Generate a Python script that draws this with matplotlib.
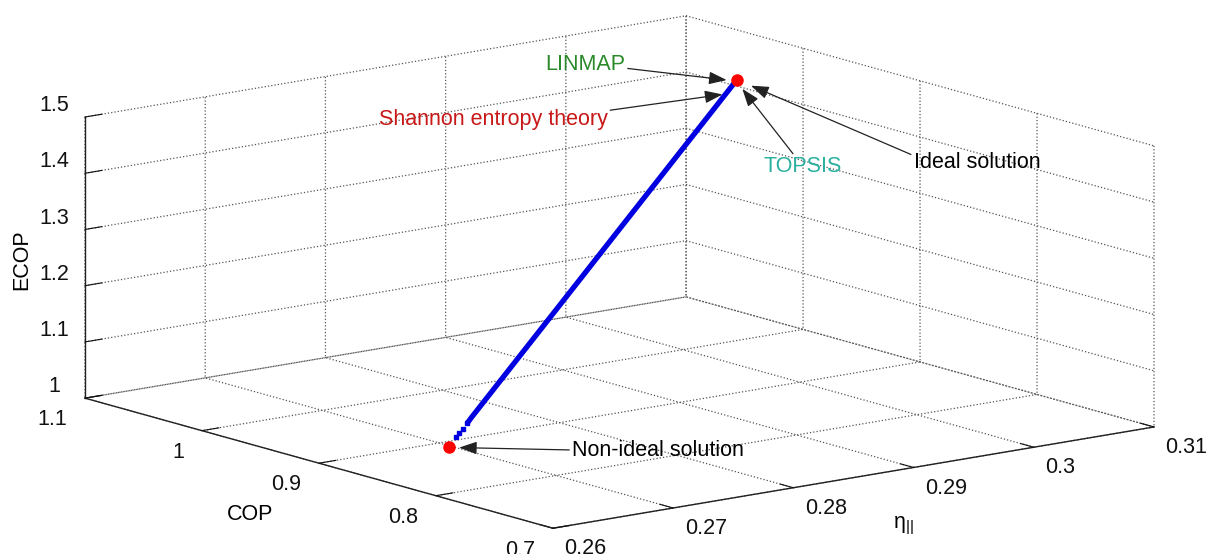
import numpy as np
import matplotlib
matplotlib.use('Agg')
import matplotlib.pyplot as plt
from matplotlib.ticker import FormatStrFormatter
from mpl_toolkits.mplot3d import proj3d

# axis ticks (eta_II, COP, ECOP)
eta_ticks = [0.26, 0.27, 0.28, 0.29, 0.30, 0.31]
cop_ticks = [0.7, 0.8, 0.9, 1.0, 1.1]
ecop_ticks = [1.0, 1.1, 1.2, 1.3, 1.4, 1.5]

# Pareto front (first points are the sparse ones)
front_eta = [0.2703, 0.2707, 0.2712, 0.2717, 0.2722, 0.3045]
front_cop = [0.8890, 0.8903, 0.8918, 0.8934, 0.8951, 1.0000]
front_ecop = [1.015, 1.020, 1.026, 1.033, 1.040, 1.464]
n_sparse = 4

ideal = (0.3045, 1.0000, 1.464)
non_ideal = (0.2697, 0.8882, 1.000)
linmap = (0.3044, 0.9995, 1.462)
topsis = (0.3044, 0.9995, 1.462)
shannon = (0.3031, 0.9956, 1.446)

ann_text = ['LINMAP', 'Shannon entropy theory', 'TOPSIS', 'Ideal solution', 'Non-ideal solution']
ann_point = [linmap, shannon, topsis, ideal, non_ideal]
ann_color = ['#2a8a2a', '#c81818', '#2ab0a0', 'black', 'black']

plt.rcParams['font.family'] = ['Liberation Sans', 'DejaVu Sans']
plt.rcParams['mathtext.fontset'] = 'custom'
plt.rcParams['mathtext.rm'] = 'Liberation Sans'
plt.rcParams['grid.linestyle'] = ':'
plt.rcParams['grid.color'] = '#555555'
plt.rcParams['grid.linewidth'] = 0.9

W, H = 1221, 554
fig = plt.figure(figsize=(W / 100, H / 100), dpi=100)
ax = fig.add_axes([0, 0, 1, 1], projection='3d', proj_type='ortho')
ax.computed_zorder = False
ax.view_init(elev=12.5, azim=-127.9)
ax.set_box_aspect((1, 1, 0.378))

ax.set_xlim(eta_ticks[0], eta_ticks[-1])
ax.set_ylim(cop_ticks[0], cop_ticks[-1])
ax.set_zlim(ecop_ticks[0], ecop_ticks[-1])
ax.set_xticks(eta_ticks)
ax.set_yticks(cop_ticks)
ax.set_zticks(ecop_ticks)
for axis in (ax.xaxis, ax.yaxis, ax.zaxis):
    axis.set_major_formatter(FormatStrFormatter('%g'))
    axis.set_pane_color((1, 1, 1, 1))
    axis.pane.set_edgecolor((1, 1, 1, 0))
    axis._axinfo['grid'].update(color='#555555', linestyle=':', linewidth=0.9)
    axis._axinfo['tick']['inward_factor'] = 0.0
    axis._axinfo['tick']['outward_factor'] = 0.35
    axis.line.set_color('#222222')
    axis.line.set_linewidth(1.0)
ax.tick_params(labelsize=15.5, colors='#111111', width=1.0)
ax.tick_params(axis='x', pad=2)
ax.tick_params(axis='y', pad=4)
plt.setp(ax.xaxis.get_majorticklabels(), ha='left')
plt.setp(ax.yaxis.get_majorticklabels(), ha='right')
plt.setp(ax.zaxis.get_majorticklabels(), va='bottom')

# pareto front and points
ax.plot(front_eta[n_sparse - 1:], front_cop[n_sparse - 1:], front_ecop[n_sparse - 1:],
        color='#0000e0', lw=3.8, solid_capstyle='butt', zorder=5)
ax.plot(front_eta[:n_sparse], front_cop[:n_sparse], front_ecop[:n_sparse],
        's', color='#0000e0', ms=3, zorder=5)
for p in (ideal, non_ideal):
    ax.plot([p[0]], [p[1]], [p[2]], 'o', color='red', ms=8, mec='red', zorder=6)

# place the box where it is in the reference
def to_px(x, y, z):
    x2, y2, _ = proj3d.proj_transform(x, y, z, ax.get_proj())
    return ax.transData.transform((x2, y2))

fig.canvas.draw()
front = to_px(0.26, 0.7, 1.0)
left = to_px(0.26, 1.1, 1.0)
right = to_px(0.31, 0.7, 1.0)
top = to_px(0.31, 1.1, 1.5)
k = (1154 - 85) / (right[0] - left[0])
pos = ax.get_position()
acx = (pos.x0 + pos.x1) / 2 * W
acy = (pos.y0 + pos.y1) / 2 * H
bcx = (right[0] + left[0]) / 2
bcy = (top[1] + front[1]) / 2
S = pos.width * W * k
tcx = (1154 + 85) / 2
tcy = H - (16 + 528) / 2
ncx = tcx - (bcx - acx) * k
ncy = tcy - (bcy - acy) * k
ax.set_position([(ncx - S / 2) / W, (ncy - S / 2) / H, S / W, S / H])

# annotations (text positions in figure pixels from top-left)
text_xy = [(585, 65), (493, 119), (803, 167), (977, 163), (658, 450)]
rel = [(1.0, 0.35), (1.0, 0.9), (0.4, 1.0), (0.0, 0.85), (0.0, 0.5)]
shrink = [7, 2, 7, 11, 7]
M = ax.get_proj()
for t, p, c, xy, r, s in zip(ann_text, ann_point, ann_color, text_xy, rel, shrink):
    x2, y2, _ = proj3d.proj_transform(p[0], p[1], p[2], M)
    ax.annotate(t, xy=(x2, y2), xycoords='data',
                xytext=(xy[0], H - xy[1]), textcoords='figure pixels',
                ha='center', va='center', fontsize=15.5, color=c,
                arrowprops=dict(arrowstyle='-|>,head_length=0.7,head_width=0.25',
                                color='#222222', lw=0.9, relpos=r,
                                shrinkA=0, shrinkB=s))

fig.text(22 / W, 1 - 260 / H, 'ECOP', rotation=90, ha='center', va='center', fontsize=15.5)
fig.text(250 / W, 1 - 515 / H, 'COP', ha='center', va='center', fontsize=15.5)
fig.text(903 / W, 1 - 526 / H, r'$\mathregular{\eta_{||}}$', ha='center', va='center', fontsize=15.5)

fig.savefig('out.png', dpi=100)
